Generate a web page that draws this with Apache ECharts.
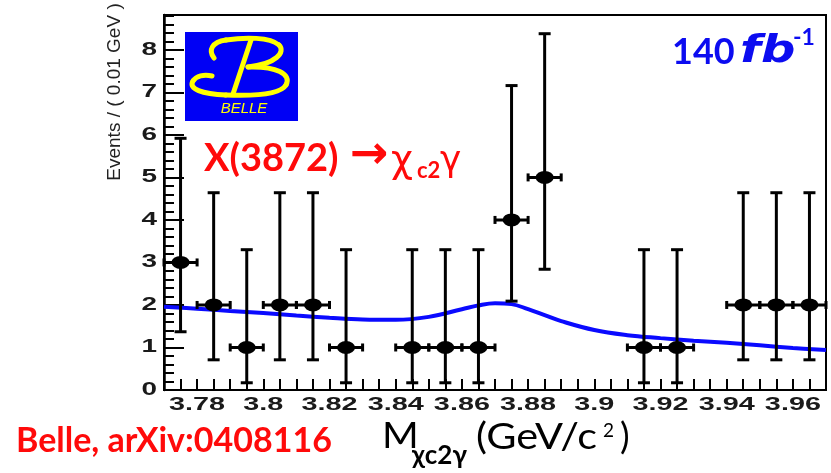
<!DOCTYPE html>
<html>
<head>
<meta charset="utf-8">
<script src="https://cdn.jsdelivr.net/npm/echarts@6/dist/echarts.min.js"></script>
<style>
  html, body { margin: 0; padding: 0; background: #fff; }
  #chart { width: 831px; height: 473px; }
</style>
</head>
<body>
<div id="chart"></div>
<script>
// Histogram of X(3872) -> chi_c2 gamma candidates, 0.01 GeV bins
const binCenters = [3.775, 3.785, 3.795, 3.805, 3.815, 3.825, 3.835, 3.845, 3.855, 3.865,
                    3.875, 3.885, 3.895, 3.905, 3.915, 3.925, 3.935, 3.945, 3.955, 3.965];
const counts     = [3, 2, 1, 2, 2, 1, 0, 1, 1, 1, 4, 5, 0, 0, 1, 1, 0, 2, 2, 2];
// asymmetric (Poisson) error bar ends
const errLow     = [1.37, 0.71, 0.17, 0.71, 0.71, 0.17, null, 0.17, 0.17, 0.17,
                    2.09, 2.84, null, null, 0.17, 0.17, null, 0.71, 0.71, 0.71];
const errHigh    = [5.92, 4.64, 3.30, 4.64, 4.64, 3.30, null, 3.30, 3.30, 3.30,
                    7.16, 8.38, null, null, 3.30, 3.30, null, 4.64, 4.64, 4.64];
const binWidth = 0.01;

// fitted curve (signal + background)
const fitX = [3.77, 3.78, 3.79, 3.80, 3.81, 3.82, 3.83, 3.84, 3.85, 3.86, 3.865, 3.87,
              3.875, 3.88, 3.885, 3.89, 3.90, 3.91, 3.92, 3.93, 3.94, 3.95, 3.96, 3.97];
const fitY = [1.96, 1.91, 1.86, 1.81, 1.75, 1.70, 1.66, 1.65, 1.72, 1.90, 1.99, 2.04,
              2.02, 1.90, 1.76, 1.62, 1.41, 1.29, 1.22, 1.16, 1.11, 1.05, 0.99, 0.94];

// axis tick labels
const xTickLabels = ['3.78', '3.8', '3.82', '3.84', '3.86', '3.88', '3.9', '3.92', '3.94', '3.96'];
const yTickLabels = ['0', '1', '2', '3', '4', '5', '6', '7', '8'];

const X_MIN = 3.77, X_MAX = 3.97, Y_MIN = 0, Y_MAX = 8.82;

// small ticks every 0.005 along the mass axis
const xTickValues = [];
for (let k = 1; k < 40; k++) xTickValues.push(+(X_MIN + k * 0.005).toFixed(3));

const pointData = [];
const errData = [];
binCenters.forEach((c, i) => {
  if (counts[i] > 0) {
    pointData.push([c, counts[i]]);
    errData.push([c, counts[i], errLow[i], errHigh[i]]);
  }
});

const chart = echarts.init(document.getElementById('chart'));

const tickFont = 'bold 18px "Liberation Sans", Arial, sans-serif';

const option = {
  animation: false,
  backgroundColor: '#ffffff',
  grid: {
    left: 164, right: 5, top: 15, bottom: 83,
    show: true, borderColor: '#000', borderWidth: 2, backgroundColor: 'transparent'
  },
  xAxis: [{
    type: 'value', min: X_MIN, max: X_MAX,
    axisLine: { show: true, onZero: false, lineStyle: { color: '#000', width: 2 } },
    axisTick: { show: true, inside: true, length: 11, customValues: xTickValues,
                lineStyle: { color: '#000', width: 2 } },
    axisLabel: { show: false },
    splitLine: { show: false }
  }],
  yAxis: [{
    type: 'value', min: Y_MIN, max: Y_MAX, interval: 1,
    axisLine: { show: true, lineStyle: { color: '#000', width: 2.5 } },
    axisTick: { show: true, inside: true, length: 20, lineStyle: { color: '#000', width: 2 } },
    axisLabel: { show: false },
    splitLine: { show: false }
  }, {
    type: 'value', min: Y_MIN, max: Y_MAX, interval: 0.2, position: 'left',
    axisLine: { show: false },
    axisTick: { show: true, inside: true, length: 10, lineStyle: { color: '#000', width: 2 } },
    axisLabel: { show: false },
    splitLine: { show: false }
  }],
  series: [{
    type: 'line',
    data: fitX.map((x, i) => [x, fitY[i]]),
    smooth: 0.4,
    showSymbol: false,
    lineStyle: { color: '#0a0aff', width: 4 },
    z: 2
  }, {
    type: 'custom',
    data: errData,
    clip: false,
    z: 3,
    renderItem(params, api) {
      const x = api.value(0), y = api.value(1);
      const pLo = api.coord([x, api.value(2)]);
      const pHi = api.coord([x, api.value(3)]);
      const pL = api.coord([x - binWidth / 2, y]);
      const pR = api.coord([x + binWidth / 2, y]);
      const st = { stroke: '#000', lineWidth: 3 };
      const cw = 6, ch = 4;
      return {
        type: 'group',
        children: [
          { type: 'line', shape: { x1: pLo[0], y1: pLo[1], x2: pHi[0], y2: pHi[1] }, style: st },
          { type: 'line', shape: { x1: pLo[0] - cw, y1: pLo[1], x2: pLo[0] + cw, y2: pLo[1] }, style: st },
          { type: 'line', shape: { x1: pHi[0] - cw, y1: pHi[1], x2: pHi[0] + cw, y2: pHi[1] }, style: st },
          { type: 'line', shape: { x1: pL[0], y1: pL[1], x2: pR[0], y2: pR[1] }, style: st },
          { type: 'line', shape: { x1: pL[0], y1: pL[1] - ch, x2: pL[0], y2: pL[1] + ch }, style: st },
          { type: 'line', shape: { x1: pR[0], y1: pR[1] - ch, x2: pR[0], y2: pR[1] + ch }, style: st }
        ]
      };
    }
  }, {
    type: 'scatter',
    data: pointData,
    symbol: 'circle',
    symbolSize: [18, 13],
    itemStyle: { color: '#000', opacity: 1 },
    z: 4
  }]
};

chart.setOption(option);

// overlay texts, logo and axis labels
const graphics = [];

// tick labels, drawn wide like the original ROOT canvas
xTickLabels.forEach(t => {
  const px = chart.convertToPixel({ xAxisIndex: 0 }, parseFloat(t));
  graphics.push({
    type: 'text', x: px, y: 405, scaleX: 1.6, z: 10,
    style: { text: t, font: tickFont, fill: '#1a1a1a', align: 'center', verticalAlign: 'middle' }
  });
});
yTickLabels.forEach(t => {
  const py = chart.convertToPixel({ yAxisIndex: 0 }, parseFloat(t));
  graphics.push({
    type: 'text', x: 157, y: py, scaleX: 1.55, z: 10,
    style: { text: t, font: tickFont, fill: '#1a1a1a', align: 'right', verticalAlign: 'middle' }
  });
});

// y axis title
graphics.push({
  type: 'text', x: 115, y: 92, rotation: Math.PI / 2, z: 10,
  style: { text: 'Events / ( 0.01 GeV )', font: '19px "Liberation Sans", Arial, sans-serif',
           fill: '#222', align: 'center', verticalAlign: 'middle' }
});

// Belle logo: blue plate with a yellow script "B"
const yel = '#ffff00';
const strokeB = { stroke: yel, lineWidth: 5, fill: null, lineCap: 'round' };
const bCurves = [
  [214, 58, 208, 50, 212, 42, 226, 40],
  [226, 40, 245, 37, 270, 37, 279, 45],
  [279, 45, 286, 52, 276, 64, 248, 67],
  [248, 67, 276, 66, 292, 74, 286, 85],
  [286, 85, 280, 95, 250, 96, 226, 95],
  [226, 95, 202, 94, 188, 89, 193, 81],
  [193, 81, 196, 76, 204, 74, 212, 76]
];
graphics.push({
  type: 'group', z: 10,
  children: [
    { type: 'rect', shape: { x: 185, y: 32, width: 113, height: 89 }, style: { fill: '#0000f5' } },
    ...bCurves.map(c => ({
      type: 'bezierCurve',
      shape: { x1: c[0], y1: c[1], cpx1: c[2], cpy1: c[3], cpx2: c[4], cpy2: c[5], x2: c[6], y2: c[7] },
      style: strokeB
    })),
    { type: 'line', shape: { x1: 251, y1: 40, x2: 233, y2: 94 }, style: strokeB },
    { type: 'text', x: 244, y: 109,
      style: { text: 'BELLE', font: 'italic 15px "Liberation Sans", Arial, sans-serif',
               fill: yel, align: 'center', verticalAlign: 'middle' } }
  ]
});

// luminosity
const blue = '#0c0cf0';
graphics.push(
  { type: 'text', x: 672, y: 52, z: 10,
    style: { text: '140', font: 'bold 36px Lato, sans-serif', fill: blue, verticalAlign: 'middle' } },
  { type: 'text', x: 740, y: 52, scaleX: 1.3, z: 10,
    style: { text: 'fb', font: 'italic bold 37px "DejaVu Sans", sans-serif', fill: blue, verticalAlign: 'middle' } },
  { type: 'text', x: 793, y: 38, z: 10,
    style: { text: '-1', font: 'bold 23px Lato, sans-serif', fill: blue, verticalAlign: 'middle' } }
);

// decay channel
const red = '#ff0a0a';
graphics.push(
  { type: 'text', x: 204, y: 159, z: 10,
    style: { text: 'X(3872)', font: 'bold 38px Lato, sans-serif', fill: red, verticalAlign: 'middle' } },
  { type: 'text', x: 350, y: 156, z: 10,
    style: { text: '→', font: 'bold 46px "DejaVu Sans", sans-serif', fill: red, verticalAlign: 'middle' } },
  { type: 'text', x: 391, y: 162, z: 10,
    style: { text: 'χ', font: '38px "DejaVu Sans", sans-serif', fill: red, verticalAlign: 'middle' } },
  { type: 'text', x: 417, y: 171, z: 10,
    style: { text: 'c2', font: 'bold 22px Lato, sans-serif', fill: red, verticalAlign: 'middle' } },
  { type: 'text', x: 440, y: 162, z: 10,
    style: { text: 'γ', font: '36px "DejaVu Sans", sans-serif', fill: red, verticalAlign: 'middle' } }
);

// reference
graphics.push({
  type: 'text', x: 16, y: 441, z: 10,
  style: { text: 'Belle, arXiv:0408116', font: 'bold 34px Lato, sans-serif', fill: red, verticalAlign: 'middle' }
});

// mass axis title
graphics.push(
  { type: 'text', x: 382, y: 436, scaleX: 1.1, z: 10,
    style: { text: 'M', font: '36px Lato, sans-serif', fill: '#000', verticalAlign: 'middle' } },
  { type: 'text', x: 412, y: 456, z: 10,
    style: { text: 'χc2γ', font: 'bold 26px Lato, sans-serif', fill: '#000', verticalAlign: 'middle' } },
  { type: 'text', x: 476, y: 437, scaleX: 1.15, z: 10,
    style: { text: '(GeV/c', font: '36px Lato, sans-serif', fill: '#000', verticalAlign: 'middle' } },
  { type: 'text', x: 603, y: 431, z: 10,
    style: { text: '2', font: '19px Lato, sans-serif', fill: '#000', verticalAlign: 'middle' } },
  { type: 'text', x: 620, y: 437, z: 10,
    style: { text: ')', font: '36px Lato, sans-serif', fill: '#000', verticalAlign: 'middle' } }
);

chart.setOption({ graphic: graphics });
</script>
</body>
</html>
